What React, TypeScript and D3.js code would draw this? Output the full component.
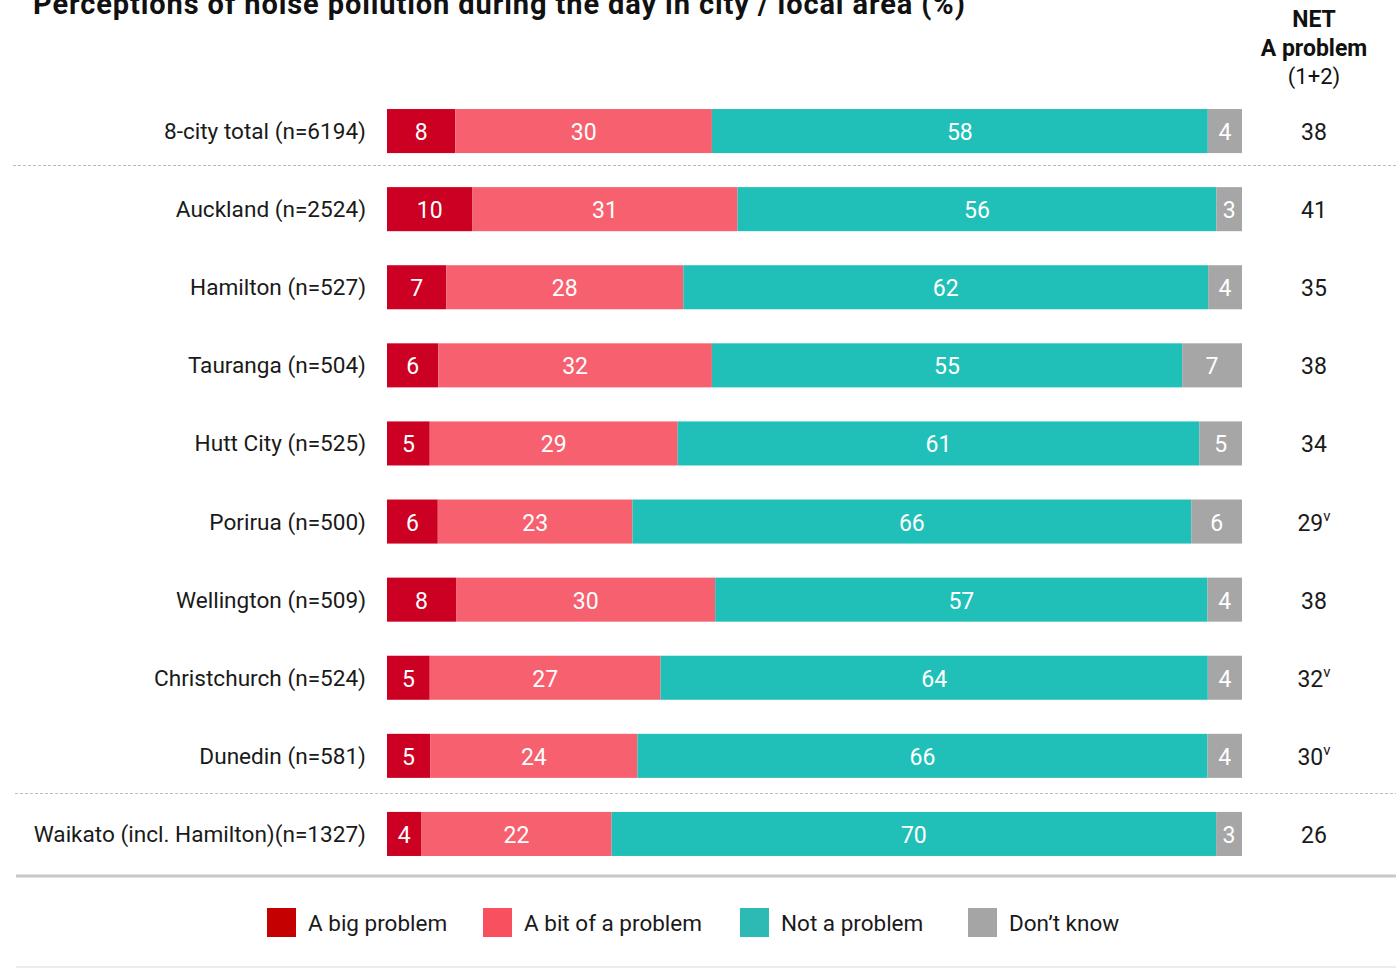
import React from "react";
import * as d3 from "d3";

const categories = [
  "8-city total (n=6194)",
  "Auckland (n=2524)",
  "Hamilton (n=527)",
  "Tauranga (n=504)",
  "Hutt City (n=525)",
  "Porirua (n=500)",
  "Wellington (n=509)",
  "Christchurch (n=524)",
  "Dunedin (n=581)",
  "Waikato (incl. Hamilton)(n=1327)",
];
const bigProblem = [8, 10, 7, 6, 5, 6, 8, 5, 5, 4];
const bitProblem = [30, 31, 28, 32, 29, 23, 30, 27, 24, 22];
const notProblem = [58, 56, 62, 55, 61, 66, 57, 64, 66, 70];
const dontKnow = [4, 3, 4, 7, 5, 6, 4, 4, 4, 3];
const netProblem = [38, 41, 35, 38, 34, 29, 38, 32, 30, 26];
const netSig = [false, false, false, false, false, true, false, true, true, false];

const seriesNames = ["A big problem", "A bit of a problem", "Not a problem", "Don\u2019t know"];
const seriesColors = ["#CC0022", "#F7606E", "#20C0B9", "#A6A6A6"];
const legendColors = ["#C40000", "#F95060", "#2DBAB5", "#A5A5A5"];

const FONT = "Roboto, 'Noto Sans', sans-serif";

export default function App() {
  const width = 1396;
  const height = 968;
  const x = d3.scaleLinear().domain([0, 1]).range([387, 1242]);
  const y = d3
    .scaleBand<number>()
    .domain(d3.range(categories.length))
    .range([92, 873])
    .paddingInner(0.436)
    .paddingOuter(0.218);
  const series = [bigProblem, bitProblem, notProblem, dontKnow];
  const bw = y.bandwidth();

  const rows = categories.map((c, i) => {
    const vals = series.map((s) => s[i]);
    const total = d3.sum(vals);
    let acc = 0;
    const segs = vals.map((v, k) => {
      const x0 = x(acc / total);
      acc += v;
      const x1 = x(acc / total);
      return { v, k, x0, x1 };
    });
    return { c, i, segs };
  });

  const legendX = [267, 483, 740, 968];

  return (
    <svg width={width} height={height} style={{ display: "block", position: "absolute", left: 0, top: 0 }} fontFamily={FONT}>
      <rect width={width} height={height} fill="#fff" />
      <text x={33} y={14} fontSize={29} fontWeight={700} fill="#111" letterSpacing={0.9}>
        Perceptions of noise pollution during the day in city / local area (%)
      </text>
      <text x={1314} y={27} textAnchor="middle" fontSize={23} fontWeight={700} fill="#111">NET</text>
      <text x={1314} y={56} textAnchor="middle" fontSize={23} fontWeight={700} fill="#111">A problem</text>
      <text x={1314} y={84} textAnchor="middle" fontSize={22} fill="#111">(1+2)</text>

      {rows.map((r) => {
        const yy = y(r.i)!;
        const cy = yy + bw / 2;
        return (
          <g key={r.c}>
            <text x={366} y={cy + 8} textAnchor="end" fontSize={22.6} fill="#1a1a1a">{r.c}</text>
            {r.segs.map((s) => (
              <g key={s.k}>
                <rect x={s.x0} y={yy} width={s.x1 - s.x0} height={bw} fill={seriesColors[s.k]} />
                <text x={(s.x0 + s.x1) / 2} y={cy + 9} textAnchor="middle" fontSize={23} fill="#fff">{s.v}</text>
              </g>
            ))}
            <text x={1314} y={cy + 9} textAnchor="middle" fontSize={23} fill="#1a1a1a">
              {netProblem[r.i]}
              {netSig[r.i] ? <tspan fontSize={15} dy={-10}>v</tspan> : null}
            </text>
          </g>
        );
      })}

      <line x1={13} x2={1396} y1={165.5} y2={165.5} stroke="#bdbdbd" strokeDasharray="3,2" strokeWidth={1} />
      <line x1={15} x2={1396} y1={793.5} y2={793.5} stroke="#bdbdbd" strokeDasharray="3,2" strokeWidth={1} />
      <line x1={16} x2={1396} y1={876} y2={876} stroke="#c8c8c8" strokeWidth={3} />
      <line x1={16} x2={1396} y1={967} y2={967} stroke="#e6e6e6" strokeWidth={1.5} />

      {seriesNames.map((n, k) => (
        <g key={n}>
          <rect x={legendX[k]} y={908} width={29} height={29} fill={legendColors[k]} />
          <text x={legendX[k] + 41} y={931} fontSize={22.5} fill="#1a1a1a">{n}</text>
        </g>
      ))}
    </svg>
  );
}
